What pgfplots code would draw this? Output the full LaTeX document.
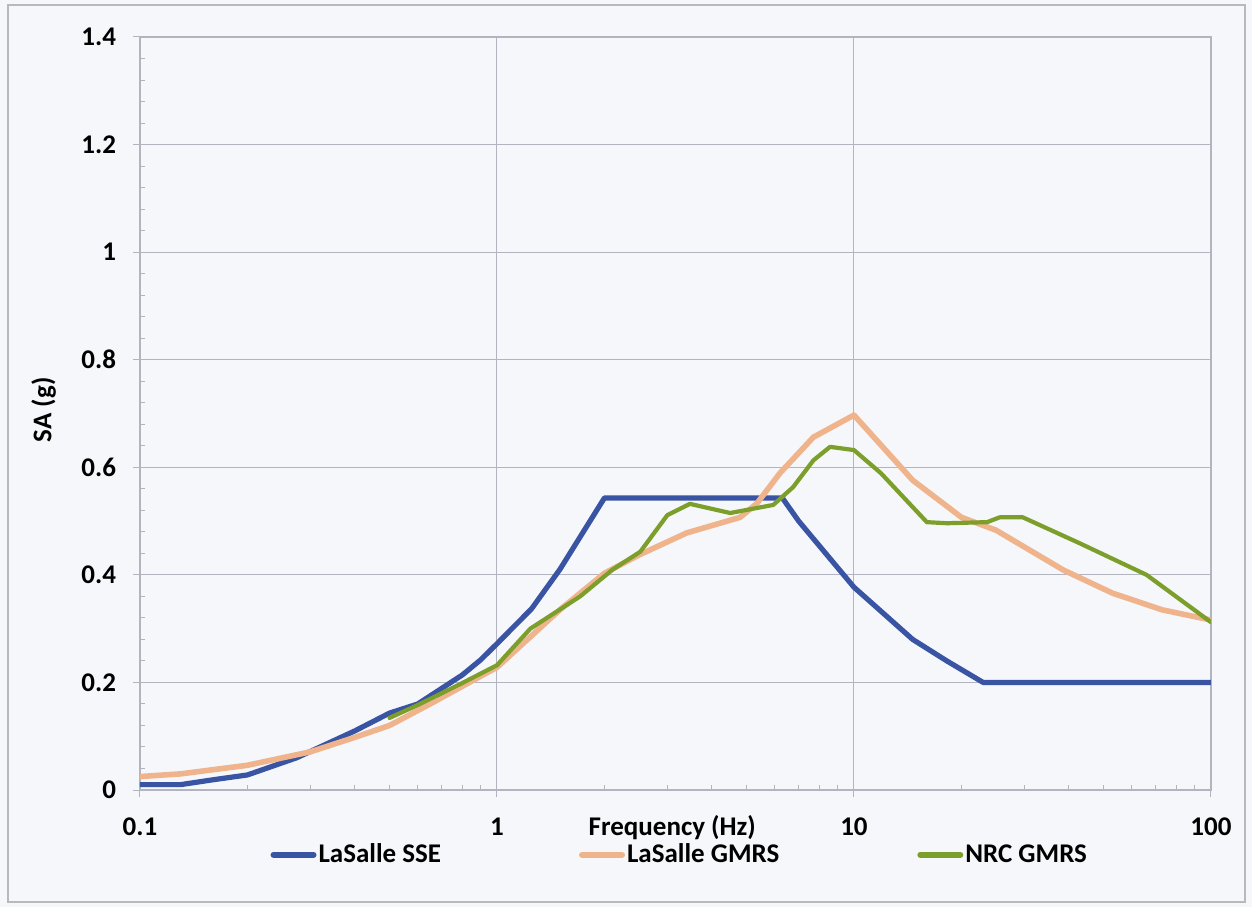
\documentclass[border=0pt]{standalone}
\usepackage{fontspec}
\setmainfont{Carlito}
\usepackage{pgfplots}
\pgfplotsset{compat=1.18}
\definecolor{sse}{RGB}{58,84,164}
\definecolor{lgmrs}{RGB}{240,180,140}
\definecolor{nrc}{RGB}{124,158,42}
\definecolor{gridc}{RGB}{178,181,192}
\definecolor{bg}{RGB}{246,247,251}
\begin{document}
\begin{tikzpicture}
\fill[bg] (-70pt,-58.5pt) rectangle (556pt,395pt);
\draw[gray!55, line width=0.6pt] (-66pt,-56pt) rectangle (552.5pt,392.5pt);
\begin{axis}[
  at={(0pt,0pt)}, anchor=south west,
  scale only axis, width=535.5pt, height=376.5pt,
  xmode=log, xmin=0.1, xmax=100, ymin=0, ymax=1.4,
  xtick={0.1,1,10,100}, xticklabels={0.1,1,10,100},
  ytick={0,0.2,0.4,0.6,0.8,1,1.2,1.4},
  yticklabels={0,0.2,0.4,0.6,0.8,1,1.2,1.4},
  minor y tick num=4,
  grid=major, major grid style={gridc, line width=0.5pt},
  axis line style={gridc, line width=0.6pt},
  tick style={gridc, line width=0.5pt},
  tick align=outside, major tick length=3.5pt, minor tick length=-2.5pt,
  xtick pos=bottom, ytick pos=left,
  font=\fontsize{13.5}{16}\selectfont\bfseries,
  xticklabel style={yshift=-7pt},
  yticklabel style={xshift=-5pt},
  xlabel={Frequency (Hz)},
  xlabel style={at={(axis description cs:0.497,-0.050)}, anchor=center},
  ylabel={SA (g)},
  ylabel style={at={(axis description cs:-0.090,0.505)}, anchor=center},
  legend columns=3,
  legend style={at={(axis description cs:0.504,-0.086)}, anchor=center,
    draw=none, fill=none, font=\fontsize{13.5}{16}\selectfont\bfseries,
    nodes={inner sep=1pt},
    /tikz/every even column/.append style={column sep=68pt}},
  legend image code/.code={\draw[#1, line width=3pt] (0pt,0pt) -- (20pt,0pt);},
  every axis plot/.append style={line join=round, line cap=round},
]
\addplot[sse, line width=2.6pt] coordinates {
(0.1,0.01)(0.13,0.01)(0.16,0.019)(0.2,0.028)(0.275,0.06)(0.4,0.11)(0.5,0.143)
(0.6,0.16)(0.8,0.214)(0.9,0.242)(1,0.272)(1.25,0.337)(1.5,0.41)(2,0.543)
(6.3,0.543)(7,0.50)(10,0.377)(14.6,0.28)(18.2,0.24)(23,0.20)(100,0.20)};
\addlegendentry{LaSalle SSE}
\addplot[lgmrs, line width=2.8pt] coordinates {
(0.1,0.025)(0.13,0.03)(0.2,0.046)(0.3,0.071)(0.4,0.098)(0.5,0.12)(0.65,0.16)
(0.88,0.208)(1,0.228)(1.5,0.335)(2,0.403)(2.5,0.437)(3.4,0.478)(4.8,0.507)
(5.35,0.533)(6.2,0.589)(7.7,0.656)(10,0.697)(14.6,0.576)(20,0.507)(25,0.483)
(38.6,0.409)(53,0.366)(73,0.335)(100,0.316)};
\addlegendentry{LaSalle GMRS}
\addplot[nrc, line width=2.1pt] coordinates {
(0.5,0.134)(0.6,0.158)(0.8,0.199)(1,0.232)(1.24,0.30)(1.71,0.36)(2.11,0.41)
(2.52,0.443)(3,0.511)(3.47,0.532)(4.5,0.515)(5.94,0.53)(6.75,0.563)(7.7,0.613)
(8.57,0.638)(10,0.632)(11.9,0.589)(16,0.498)(18.2,0.496)(23.6,0.498)(25.6,0.507)
(29.7,0.507)(42.8,0.459)(66,0.40)(100,0.312)};
\addlegendentry{NRC GMRS}
\end{axis}
\end{tikzpicture}
\end{document}
